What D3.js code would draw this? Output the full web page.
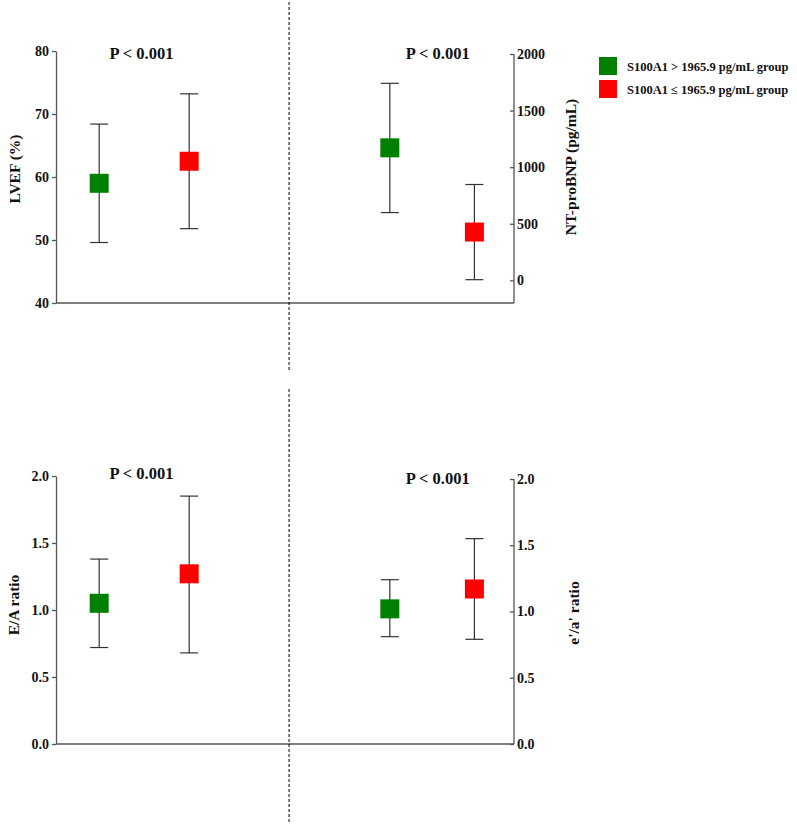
<!DOCTYPE html>
<html>
<head>
<meta charset="utf-8">
<script src="https://cdn.jsdelivr.net/npm/d3@7"></script>
<style>
  html, body { margin: 0; padding: 0; background: #fff; }
  svg { display: block; }
  text { font-family: "Liberation Serif", "Times New Roman", serif; font-weight: bold; fill: #111; }
</style>
</head>
<body>
<svg id="chart" width="797" height="829"></svg>
<script>
// ---- data ----
const groups = ["S100A1 > 1965.9 pg/mL group", "S100A1 \u2264 1965.9 pg/mL group"];
const groupColors = ["#008000", "#ff0000"];
const pLabel = "P < 0.001";

// top panel
const lvefMean = [59.0, 62.5];
const lvefLow = [49.6, 51.8];
const lvefHigh = [68.4, 73.2];
const ntMean = [1171, 427];
const ntLow = [599, 6];
const ntHigh = [1741, 847];
// bottom panel
const eaMean = [1.05, 1.27];
const eaLow = [0.72, 0.68];
const eaHigh = [1.38, 1.85];
const eaPrimeMean = [1.02, 1.17];
const eaPrimeLow = [0.81, 0.79];
const eaPrimeHigh = [1.24, 1.55];

// tick labels
const lvefTicks = [40, 50, 60, 70, 80];
const ntTicks = [0, 500, 1000, 1500, 2000];
const ratioTicks = [0.0, 0.5, 1.0, 1.5, 2.0];

// x slots for the four group positions (left measure, right measure)
const leftSlots = [1, 2];
const rightSlots = [4.23, 5.17];
const dividerSlot = 3.11;

// ---- drawing ----
const svg = d3.select("#chart");
const x = d3.scaleLinear().domain([0.52, 5.61]).range([56, 514]);

const axisColor = "#555";
const barColor = "#333";
const sq = 19, cap = 18;

function drawSeries(g, y, slots, mean, low, high) {
  slots.forEach((s, i) => {
    const cx = x(s);
    g.append("line").attr("x1", cx).attr("x2", cx).attr("y1", y(low[i])).attr("y2", y(high[i]))
      .attr("stroke", barColor).attr("stroke-width", 1.2);
    [low[i], high[i]].forEach(v => {
      g.append("line").attr("x1", cx - cap / 2).attr("x2", cx + cap / 2).attr("y1", y(v)).attr("y2", y(v))
        .attr("stroke", barColor).attr("stroke-width", 1.2);
    });
    g.append("rect").attr("x", cx - sq / 2).attr("y", y(mean[i]) - sq / 2)
      .attr("width", sq).attr("height", sq).attr("fill", groupColors[i]);
  });
}

function styleAxis(sel) {
  sel.selectAll("path, line").attr("stroke", axisColor).attr("stroke-width", 1.3);
  sel.selectAll("text").attr("font-size", "14px").style("font-family", "'Liberation Serif', 'Times New Roman', serif")
    .style("font-weight", "bold").attr("fill", "#111");
}

function panel(opts) {
  const g = svg.append("g");
  const yL = d3.scaleLinear().domain(opts.leftDomain).range(opts.leftRange);
  const yR = d3.scaleLinear().domain(opts.rightDomain).range(opts.rightRange);

  // bottom baseline
  g.append("line").attr("x1", x.range()[0]).attr("x2", x.range()[1])
    .attr("y1", opts.base).attr("y2", opts.base).attr("stroke", axisColor).attr("stroke-width", 1.3);

  const la = g.append("g").attr("transform", `translate(${x.range()[0]},0)`)
    .call(d3.axisLeft(yL).tickValues(opts.leftTicks).tickSize(4).tickSizeOuter(0).tickPadding(3).tickFormat(opts.leftFmt));
  styleAxis(la);

  const ra = g.append("g").attr("transform", `translate(${x.range()[1]},0)`)
    .call(d3.axisRight(yR).tickValues(opts.rightTicks).tickSize(-4).tickSizeOuter(0).tickPadding(3).tickFormat(opts.rightFmt));
  styleAxis(ra);
  // extend right axis line down to baseline
  ra.select("path.domain").attr("d", `M0,${opts.base}V${opts.rightRange[1]}`);

  drawSeries(g, yL, leftSlots, opts.lMean, opts.lLow, opts.lHigh);
  drawSeries(g, yR, rightSlots, opts.rMean, opts.rLow, opts.rHigh);

  // titles
  g.append("text").attr("transform", `translate(${opts.lTitleX},${opts.lTitleY}) rotate(-90)`)
    .attr("text-anchor", "middle").attr("dominant-baseline", "central").attr("font-size", "15.5px").text(opts.lTitle);
  g.append("text").attr("transform", `translate(${opts.rTitleX},${opts.rTitleY}) rotate(-90)`)
    .attr("text-anchor", "middle").attr("dominant-baseline", "central").attr("font-size", "15.5px").text(opts.rTitle);

  // P values
  g.append("text").attr("x", 141.5).attr("y", opts.pY[0]).attr("text-anchor", "middle").attr("font-size", "16.5px").text(pLabel);
  g.append("text").attr("x", 437.7).attr("y", opts.pY[1]).attr("text-anchor", "middle").attr("font-size", "16.5px").text(pLabel);

  // divider
  g.append("line").attr("x1", x(dividerSlot)).attr("x2", x(dividerSlot))
    .attr("y1", opts.divY[0]).attr("y2", opts.divY[1])
    .attr("stroke", "#000").attr("stroke-width", 1).attr("stroke-dasharray", "3,2");
}

panel({
  leftDomain: [40, 80], leftRange: [303, 51], leftTicks: lvefTicks, leftFmt: d3.format("d"),
  rightDomain: [-200, 2000], rightRange: [303, 54], rightTicks: ntTicks, rightFmt: d3.format("d"),
  base: 303,
  lMean: lvefMean, lLow: lvefLow, lHigh: lvefHigh,
  rMean: ntMean, rLow: ntLow, rHigh: ntHigh,
  lTitle: "LVEF (%)", lTitleX: 14, lTitleY: 169,
  rTitle: "NT-proBNP (pg/mL)", rTitleX: 570, rTitleY: 167,
  pY: [59, 59], divY: [2, 370]
});

panel({
  leftDomain: [0, 2], leftRange: [744, 476], leftTicks: ratioTicks, leftFmt: d3.format(".1f"),
  rightDomain: [0, 2], rightRange: [744, 479], rightTicks: ratioTicks, rightFmt: d3.format(".1f"),
  base: 744,
  lMean: eaMean, lLow: eaLow, lHigh: eaHigh,
  rMean: eaPrimeMean, rLow: eaPrimeLow, rHigh: eaPrimeHigh,
  lTitle: "E/A ratio", lTitleX: 13, lTitleY: 605,
  rTitle: "e'/a' ratio", rTitleX: 573, rTitleY: 613,
  pY: [479, 484], divY: [389, 822]
});

// legend
const legend = svg.append("g").attr("transform", "translate(599,57)");
groups.forEach((name, i) => {
  legend.append("rect").attr("x", 0).attr("y", i * 23).attr("width", 18).attr("height", 18).attr("fill", groupColors[i]);
  legend.append("text").attr("x", 28).attr("y", i * 23 + 9.5).attr("dominant-baseline", "central")
    .attr("font-size", "12.5px").text(name);
});
</script>
</body>
</html>
